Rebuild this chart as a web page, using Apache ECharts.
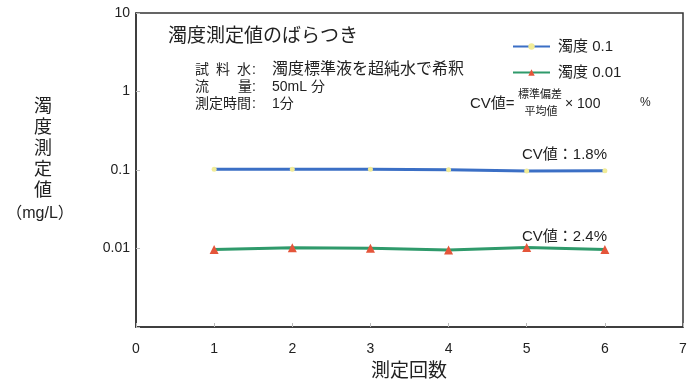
<!DOCTYPE html>
<html>
<head>
<meta charset="utf-8">
<script src="https://cdn.jsdelivr.net/npm/echarts@6/dist/echarts.min.js"></script>
<style>html,body{margin:0;padding:0;background:#fff}#c{width:697px;height:385px}</style>
</head>
<body>
<div id="c"></div>
<script>
// ---- data ----
const runs = [1, 2, 3, 4, 5, 6];
const turbidity01 = [0.102, 0.102, 0.102, 0.101, 0.097, 0.098];
const turbidity001 = [0.0097, 0.0102, 0.0101, 0.0096, 0.0103, 0.0097];
const seriesNames = ['濁度 0.1', '濁度 0.01'];
const yTickValues = [0.01, 0.1, 1, 10];
const yTickLabels = ['0.01', '0.1', '1', '10'];
const xTickLabels = ['0', '1', '2', '3', '4', '5', '6', '7'];

const FONT = '"Liberation Sans","Noto Sans CJK JP",sans-serif';
const TXT = '#222';

function pairs(xs, ys) { return xs.map((x, i) => [x, ys[i]]); }
function t(left, top, text, size) {
  return { type: 'text', left: left, top: top, style: { text: text, fontSize: size, fill: TXT, fontFamily: FONT } };
}

const chart = echarts.init(document.getElementById('c'), null, { renderer: 'canvas' });
chart.setOption({
  animation: false,
  backgroundColor: '#fff',
  textStyle: { fontFamily: FONT, color: TXT },
  grid: { left: 136, right: 14, top: 13, bottom: 58, show: true, borderColor: '#333', borderWidth: 1.5 },
  xAxis: {
    type: 'value', min: 0, max: 7, interval: 1,
    axisLine: { show: true, lineStyle: { color: '#333', width: 1.5 } },
    axisTick: { show: true, inside: true, length: 4, lineStyle: { color: '#bbb' } },
    splitLine: { show: false },
    axisLabel: { margin: 15, fontSize: 14, color: TXT, fontFamily: FONT,
      formatter: v => xTickLabels[Math.round(v)] ?? '' }
  },
  yAxis: {
    type: 'log', logBase: 10, min: 0.001, max: 10,
    axisLine: { show: true, lineStyle: { color: '#333', width: 1.5 } },
    axisTick: { show: true, inside: true, length: 4, lineStyle: { color: '#bbb' } },
    splitLine: { show: false },
    axisLabel: { margin: 6, fontSize: 14, color: TXT, fontFamily: FONT,
      formatter: v => {
        const i = yTickValues.findIndex(tv => Math.abs(tv - v) / tv < 1e-6);
        return i >= 0 ? yTickLabels[i] : '';
      } }
  },
  legend: {
    orient: 'vertical', left: 507, top: 33, itemWidth: 37, itemHeight: 8, itemGap: 9,
    textStyle: { fontSize: 15, lineHeight: 17, color: TXT, fontFamily: FONT, padding: [0, 0, 0, 3] },
    data: seriesNames
  },
  series: [
    {
      name: seriesNames[0], type: 'line', data: pairs(runs, turbidity01),
      symbol: 'circle', symbolSize: 5,
      lineStyle: { color: '#3b6fc5', width: 3 },
      itemStyle: { color: '#f1ec98' }, z: 3
    },
    {
      name: seriesNames[1], type: 'line', data: pairs(runs, turbidity001),
      symbol: 'triangle', symbolSize: 9,
      lineStyle: { color: '#2f9a6b', width: 3 },
      itemStyle: { color: '#e4553a' }, z: 3
    }
  ],
  graphic: [
    t(168, 27, '濁度測定値のばらつき', 19),
    t(195, 63, '試', 14), t(216, 63, '料', 14), t(237, 63, '水', 14), t(252, 63, ':', 14),
    t(272, 62, '濁度標準液を超純水で希釈', 16),
    t(195, 80, '流', 14), t(238, 80, '量', 14), t(252, 80, ':', 14),
    t(272, 80, '50mL 分', 14),
    t(195, 97, '測定時間', 14), t(252, 97, ':', 14), t(272, 97, '1分', 14),
    t(470, 96, 'CV値=', 15),
    { type: 'text', x: 540, y: 95, style: { text: '標準偏差', fontSize: 11, fill: TXT, fontFamily: FONT, align: 'center', verticalAlign: 'middle' } },
    { type: 'text', x: 541, y: 112, style: { text: '平均値', fontSize: 11, fill: TXT, fontFamily: FONT, align: 'center', verticalAlign: 'middle' } },
    t(565, 97, '× 100', 14),
    t(640, 97, '%', 12),
    t(522, 147, 'CV値：1.8%', 15),
    t(522, 229, 'CV値：2.4%', 15),
    { type: 'text', x: 43, y: 97, style: { text: '濁\n度\n測\n定\n値', fontSize: 18, lineHeight: 21, fill: TXT, fontFamily: FONT, align: 'center' } },
    { type: 'text', x: 40, y: 214, style: { text: '（mg/L）', fontSize: 16, fill: TXT, fontFamily: FONT, align: 'center', verticalAlign: 'middle' } },
    { type: 'text', x: 409, y: 372, style: { text: '測定回数', fontSize: 19, fill: TXT, fontFamily: FONT, align: 'center', verticalAlign: 'middle' } }
  ]
});
</script>
</body>
</html>
